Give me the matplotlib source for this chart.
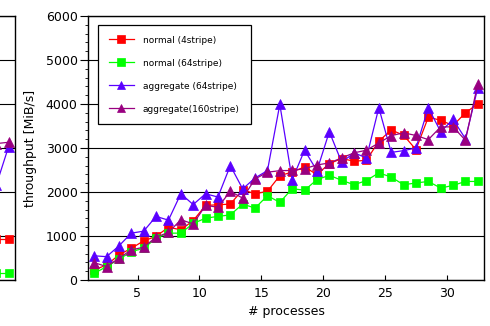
import numpy as np
import matplotlib
matplotlib.use('Agg')
from matplotlib import pyplot as plt

# number of processes (1..32)
procs = np.arange(1, 33)

normal_4 = [230, 340, 570, 720, 890, 990, 1200, 1140, 1350, 1695, 1710, 1725,
            2050, 1960, 2015, 2370, 2455, 2570, 2395, 2645, 2760, 2700, 2720, 3155,
            3410, 3290, 2965, 3700, 3630, 3510, 3800, 4005]
normal_64 = [150, 305, 470, 645, 720, 950, 1065, 1065, 1285, 1405, 1445, 1480,
             1725, 1635, 1915, 1765, 2075, 2040, 2280, 2380, 2265, 2165, 2260, 2435,
             2340, 2165, 2205, 2240, 2090, 2150, 2240, 2240]
aggr_64 = [550, 530, 775, 1065, 1110, 1445, 1360, 1960, 1715, 1960, 1885, 2600,
           2070, 2320, 2485, 3990, 2280, 2950, 2485, 3370, 2675, 2890, 2775, 3915,
           2900, 2940, 3000, 3915, 3370, 3650, 3210, 4370]
aggr_160 = [395, 305, 495, 685, 745, 975, 1080, 1370, 1275, 1695, 1655, 2015,
            1860, 2295, 2450, 2485, 2490, 2530, 2615, 2660, 2775, 2890, 2950, 3115,
            3280, 3345, 3285, 3190, 3480, 3480, 3175, 4460]

# tail end of the neighbouring panel (only last two points visible)
prev_procs = np.array([31, 32])
prev_normal_4 = [930, 930]
prev_normal_64 = [165, 165]
prev_aggr_64 = [2150, 3025]
prev_aggr_160 = [3100, 3130]

labels = ['normal (4stripe)', 'normal (64stripe)', 'aggregate (64stripe)', 'aggregate(160stripe)']
colors = ['#ff0000', '#00ff00', '#5a00ff', '#990080']
markers = ['s', 's', '^', '^']
msizes = [6.2, 6.2, 6.8, 6.8]

W, H = 490, 326
fig = plt.figure(figsize=(W/100, H/100), dpi=100)

def style_axes(ax):
    ax.set_xlim(1, 33)
    ax.set_ylim(0, 6000)
    ax.set_yticks(np.arange(0, 6001, 1000))
    ax.set_yticks(np.arange(0, 6001, 200), minor=True)
    ax.set_xticks([5, 10, 15, 20, 25, 30])
    ax.grid(axis='y', which='major', color='black', lw=0.8)
    ax.set_axisbelow(True)
    ax.tick_params(axis='x', direction='in', length=3.5, width=0.8, labelsize=9, pad=5)
    ax.tick_params(axis='y', which='major', direction='out', length=5.5, width=0.8, labelsize=9, pad=2)
    ax.tick_params(axis='y', which='minor', direction='out', length=2, width=0.6)
    for s in ax.spines.values():
        s.set_linewidth(1.0)

# neighbouring panel, mostly outside the figure
ax0 = fig.add_axes([(14.7-396)/W, 46/H, 396/W, 264/H])
style_axes(ax0)
ax0.tick_params(labelleft=False, labelbottom=False)
for ys, c, m, s in zip([prev_normal_4, prev_normal_64, prev_aggr_64, prev_aggr_160], colors, markers, msizes):
    ax0.plot(prev_procs + 0.5, ys, color=c, marker=m, ms=s, mew=0.5, lw=0.9)

ax = fig.add_axes([88/W, 46/H, 396/W, 264/H])
style_axes(ax)
for ys, c, m, s, lab in zip([normal_4, normal_64, aggr_64, aggr_160], colors, markers, msizes, labels):
    # points sit in the middle of each unit on the x axis
    ax.plot(procs + 0.5, ys, color=c, marker=m, ms=s, mew=0.5, lw=0.9, label=lab)

ax.set_xlabel('# processes', fontsize=9, labelpad=4)
ax.set_ylabel('throughput [MiB/s]', fontsize=9, labelpad=6)

leg = ax.legend(loc='upper left', bbox_to_anchor=(0.0245, 0.967), borderaxespad=0,
                fontsize=6.5, fancybox=False, framealpha=1, edgecolor='black',
                handlelength=2.8, handletextpad=1.0, labelspacing=1.55,
                borderpad=1.2, markerscale=0.9)
leg.get_frame().set_linewidth(0.9)

fig.savefig('out.png', dpi=100)
